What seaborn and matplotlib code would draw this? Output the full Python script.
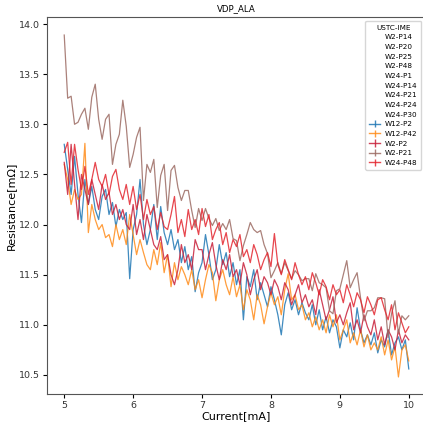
import numpy as np
import pandas as pd
import matplotlib
matplotlib.use("Agg")
import matplotlib.pyplot as plt
from matplotlib.lines import Line2D
import seaborn as sns

current = [round(5.0 + 0.05 * i, 2) for i in range(101)]

w12_p2 = [
    12.80, 12.55, 12.30, 12.68, 12.30, 12.02, 12.45, 12.20, 12.38, 12.15,
    12.05, 12.28, 12.35, 12.10, 12.22, 11.98, 12.15, 12.05, 12.12, 11.46,
    11.95, 12.10, 12.45, 12.00, 11.80, 11.95, 12.20, 11.85, 12.18, 11.92,
    11.80, 11.95, 11.75, 11.85, 11.62, 11.78, 11.55, 11.68, 11.33, 11.52,
    11.62, 11.90, 11.70, 11.45, 11.55, 11.80, 11.60, 11.72, 11.48, 11.62,
    11.40, 11.55, 11.05, 11.48, 11.38, 11.55, 11.25, 11.42, 11.30, 11.18,
    11.38, 11.25, 11.10, 10.90, 11.20, 11.32, 11.15, 11.25, 11.10, 11.22,
    11.12, 11.05, 11.20, 11.00, 11.15, 10.95, 11.08, 10.92, 11.05, 10.98,
    10.77, 10.95, 10.88, 11.02, 10.85, 11.17, 10.95, 10.82, 10.90, 10.80,
    10.92, 10.72, 10.85, 10.78, 10.95, 10.70, 10.82, 10.88, 10.75, 10.85,
    10.56,
]

w12_p42 = [
    12.60, 12.45, 12.20, 12.35, 12.25, 12.30, 12.81, 11.92, 12.20, 12.05,
    11.95, 12.00, 11.87, 11.90, 11.78, 12.00, 11.85, 11.95, 11.80, 12.10,
    11.90, 11.70, 11.85, 11.72, 11.60, 11.55, 11.75, 11.60, 11.82, 11.52,
    11.70, 11.38, 11.62, 11.45, 11.58, 11.50, 11.40, 11.55, 11.35, 11.45,
    11.27, 11.45, 11.60, 11.52, 11.24, 11.45, 11.55, 11.40, 11.30, 11.48,
    11.28, 11.40, 11.15, 11.35, 11.25, 11.05, 11.30, 11.20, 11.01, 11.18,
    11.32, 11.20, 11.28, 11.10, 11.35, 11.51, 11.25, 11.30, 11.15, 11.20,
    11.05, 11.12, 10.98, 11.08, 10.95, 11.05, 10.92, 11.10, 10.98, 11.10,
    10.85, 10.95, 11.05, 10.82, 10.92, 10.80, 10.95, 10.78, 10.90, 10.75,
    10.82, 10.75, 10.88, 10.70, 10.85, 10.65, 10.78, 10.48, 10.75, 10.80,
    10.64,
]

w2_p2 = [
    12.62, 12.30, 12.80, 12.40, 12.05, 12.50, 12.35, 12.20, 12.45, 12.30,
    12.15, 12.40, 12.25, 12.32, 12.10, 12.20, 12.05, 12.15, 12.00, 11.95,
    12.20, 11.90, 12.05, 11.85, 12.10, 11.95, 11.80, 11.75, 11.88, 11.65,
    11.70, 11.50, 11.40, 11.55, 11.80, 11.62, 11.70, 11.55, 11.85, 11.75,
    11.75, 11.55, 11.70, 11.82, 11.60, 11.45, 11.65, 11.55, 11.70, 11.48,
    11.55, 11.40, 11.62, 11.50, 11.30, 11.45, 11.55, 11.35, 11.48, 11.42,
    11.30, 11.45, 11.38, 11.25, 11.42, 11.35, 11.20, 11.30, 11.40, 11.22,
    11.30, 11.18, 11.25, 11.10, 11.35, 11.20, 11.05, 11.15, 11.28, 11.02,
    11.10, 11.00, 11.12, 11.22, 10.95, 11.05, 10.92, 11.10, 10.98, 10.90,
    11.05, 10.85, 10.98, 10.80, 10.95, 10.88, 10.75, 10.95, 10.82, 10.90,
    10.85,
]

w2_p21 = [
    13.89, 13.26, 13.28, 13.00, 13.02, 13.10, 13.16, 12.95, 13.27, 13.40,
    13.05, 12.85, 13.05, 13.10, 12.60, 12.80, 12.90, 13.24, 12.98, 12.57,
    12.70, 12.87, 12.97, 12.24, 12.60, 12.52, 12.65, 12.17, 12.49, 12.60,
    12.14, 12.54, 12.59, 12.37, 12.24, 12.34, 12.34, 12.14, 11.97, 12.16,
    12.04, 12.16, 12.06, 11.99, 12.06, 11.94, 12.01, 11.95, 12.05, 11.86,
    11.84, 11.64, 11.79, 11.90, 12.02, 11.95, 11.92, 11.94, 11.80, 11.71,
    11.47, 11.54, 11.62, 11.51, 11.62, 11.54, 11.46, 11.54, 11.50, 11.44,
    11.46, 11.46, 11.34, 11.51, 11.42, 11.40, 11.37, 11.14, 11.11, 11.34,
    11.36, 11.50, 11.64, 11.37, 11.45, 11.52, 11.27, 11.04, 11.14, 11.14,
    11.17, 11.27, 11.27, 11.26, 10.87, 11.11, 11.24, 10.91, 11.09, 11.05,
    11.09,
]

w24_p48 = [
    12.72, 12.82, 12.40, 12.80, 12.55, 12.35, 12.58, 12.30, 12.45, 12.62,
    12.45, 12.38, 12.50, 12.30, 12.48, 12.55, 12.35, 12.25, 12.40, 12.20,
    12.38, 12.15, 12.30, 12.05, 12.25, 12.10, 12.18, 11.95, 12.12, 11.98,
    11.95, 12.10, 12.28, 11.92, 12.05, 11.88, 12.15, 11.95, 12.05, 11.90,
    12.16, 11.98, 12.10, 11.85, 11.95, 12.02, 11.80, 11.92, 11.72, 11.85,
    11.78, 11.90, 11.68, 11.75, 11.62, 11.80, 11.70, 11.55, 11.65, 11.72,
    11.58, 11.91, 11.60, 11.50, 11.65, 11.55, 11.45, 11.62, 11.50, 11.40,
    11.48, 11.35, 11.52, 11.42, 11.30, 11.45, 11.38, 11.25, 11.40, 11.30,
    11.35, 11.22, 11.40, 11.30, 11.18, 11.32, 11.25, 11.12, 11.28, 11.20,
    11.10, 11.25, 11.27, 11.15, 11.05, 11.20, 10.95, 11.12, 11.02, 10.92,
    10.98,
]

hidden_labels = ["W2-P14", "W2-P20", "W2-P25", "W2-P48", "W24-P1",
                 "W24-P14", "W24-P21", "W24-P24", "W24-P30"]
series_names = ["W12-P2", "W12-P42", "W2-P2", "W2-P21", "W24-P48"]
series_values = [w12_p2, w12_p42, w2_p2, w2_p21, w24_p48]
colors = ["#1f77b4", "#ff8c1a", "#c8203a", "#9c6b63", "#e3262f"]

frames = []
for name, vals in zip(series_names, series_values):
    assert len(vals) == len(current), (name, len(vals))
    frames.append(pd.DataFrame({"Current": current, "Resistance": vals, "Sample": name}))
df = pd.concat(frames, ignore_index=True)

fig = plt.figure(figsize=(4.23, 4.26), dpi=100)
ax = fig.add_axes([47 / 423, 1 - 394 / 426, (426 - 47) / 423, (394 - 17) / 426])

sns.lineplot(data=df, x="Current", y="Resistance", hue="Sample",
             hue_order=series_names, palette=dict(zip(series_names, colors)),
             linewidth=0.9, alpha=0.85, legend=False, ax=ax)

handles = []
labels = []
for lab in hidden_labels:
    handles.append(Line2D([], [], linestyle="none"))
    labels.append(lab)
for name, c in zip(series_names, colors):
    h = ax.errorbar([np.nan], [np.nan], yerr=[0.1], color=c, linewidth=1.0, alpha=0.85)
    handles.append(h)
    labels.append(name)

leg = ax.legend(handles, labels, title="USTC-IME", loc="upper right",
                bbox_to_anchor=(421 / 423, 1 - 21 / 426), bbox_transform=fig.transFigure,
                borderaxespad=0, fontsize=5.2, title_fontsize=5.2,
                labelspacing=0.5, handlelength=1.6, handletextpad=0.6,
                borderpad=0.5)

ax.set_title("VDP_ALA", fontsize=6.2, pad=4)
ax.set_xlabel("Current[mA]", fontsize=8, labelpad=1)
ax.set_ylabel("Resistance[mΩ]", fontsize=8, labelpad=2)
ax.tick_params(labelsize=6.8, length=3, pad=2, labelcolor="#333333")
ax.set_yticks([10.5, 11.0, 11.5, 12.0, 12.5, 13.0, 13.5, 14.0])
ax.set_xticks([5, 6, 7, 8, 9, 10])
ax.set_xlim(4.75, 10.25)
ax.set_ylim(10.31, 14.07)
for s in ax.spines.values():
    s.set_color("#555555")

fig.savefig("out.png", dpi=100)
